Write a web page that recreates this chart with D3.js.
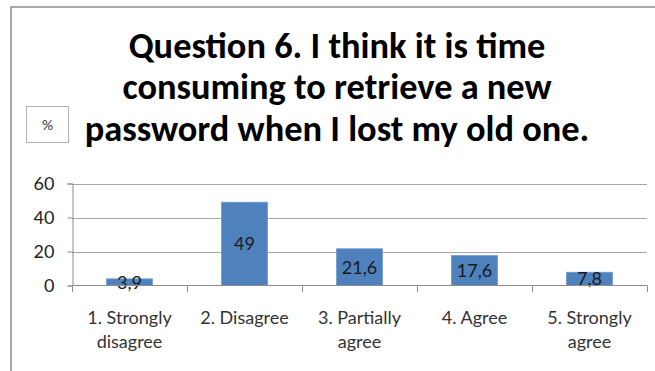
<!DOCTYPE html>
<html>
<head>
<meta charset="utf-8">
<script src="https://cdn.jsdelivr.net/npm/d3@7"></script>
<style>
  html, body { margin: 0; padding: 0; background: #fff; }
  svg { display: block; }
</style>
</head>
<body>
<svg id="chart" width="655" height="371"></svg>
<script>
// Survey answers (percent of respondents)
const categories = ["1. Strongly disagree", "2. Disagree", "3. Partially agree", "4. Agree", "5. Strongly agree"];
const categoryLines = [["1. Strongly", "disagree"], ["2. Disagree"], ["3. Partially", "agree"], ["4. Agree"], ["5. Strongly", "agree"]];
const values = [3.9, 49, 21.6, 17.6, 7.8];
const valueLabels = ["3,9", "49", "21,6", "17,6", "7,8"];
const yTicks = [0, 20, 40, 60];
const titleLines = ["Question 6. I think it is time", "consuming to retrieve a new", "password when I lost my old one."];
const unitLabel = "%";

const svg = d3.select("#chart");
const font = "Lato, 'Open Sans', sans-serif";

// outer chart frame (runs off the right and bottom edges)
svg.append("rect")
  .attr("x", 11).attr("y", 7).attr("width", 700).attr("height", 420)
  .attr("fill", "none").attr("stroke", "#8c8c8c").attr("stroke-width", 1.5);

// title, fitted so the longest line spans the title area
const title = svg.append("g").attr("font-family", "Calibri, Carlito, " + font).attr("font-weight", "bold").attr("fill", "#000");
const titleBaselines = [58, 99, 141];
const tNodes = title.selectAll("text").data(titleLines).join("text")
  .attr("x", 337).attr("y", (d, i) => titleBaselines[i])
  .attr("text-anchor", "middle")
  .attr("font-size", 30)
  .text(d => d);
const w3 = tNodes.nodes()[2].getComputedTextLength();
tNodes.attr("font-size", 30 * 505 / w3);

// unit box
svg.append("rect").attr("x", 26.5).attr("y", 106.5).attr("width", 42).attr("height", 36)
  .attr("fill", "#fff").attr("stroke", "#b0b0b0").attr("stroke-width", 1);
svg.append("text").attr("x", 47.5).attr("y", 130).attr("text-anchor", "middle")
  .attr("font-family", font).attr("font-size", 14).attr("fill", "#333").text(unitLabel);

// scales
const x = d3.scaleBand().domain(categories).range([72, 647]).paddingInner(0.6).paddingOuter(0.3);
const y = d3.scaleLinear().domain([0, 60]).range([285.5, 183.5]);

// horizontal gridlines
svg.append("g").selectAll("line").data(yTicks.filter(t => t > 0)).join("line")
  .attr("x1", 72).attr("x2", 647)
  .attr("y1", d => Math.round(y(d)) + 0.5).attr("y2", d => Math.round(y(d)) + 0.5)
  .attr("stroke", "#a6a6a6").attr("stroke-width", 1.2);

// y axis
const yAxis = svg.append("g").attr("transform", "translate(72.5,0)")
  .call(d3.axisLeft(y).tickValues(yTicks).tickSize(5).tickPadding(13));
yAxis.select(".domain").attr("stroke", "#8c8c8c");
yAxis.selectAll(".tick line").attr("stroke", "#8c8c8c");
yAxis.selectAll(".tick text").attr("font-family", font).attr("font-size", 18).attr("fill", "#222");

// bars
svg.append("g").selectAll("rect").data(values).join("rect")
  .attr("x", (d, i) => x(categories[i]))
  .attr("y", d => y(d))
  .attr("width", x.bandwidth())
  .attr("height", d => y(0) - y(d))
  .attr("fill", "#4f81bd")
  .attr("stroke", "#6f9bd0").attr("stroke-width", 0.8);

// value labels centred in each bar
svg.append("g").selectAll("text").data(values).join("text")
  .attr("x", (d, i) => x(categories[i]) + x.bandwidth() / 2)
  .attr("y", d => (y(d) + y(0)) / 2)
  .attr("dy", "0.36em")
  .attr("text-anchor", "middle")
  .attr("font-family", font).attr("font-size", 18).attr("fill", "#1a1a1a")
  .text((d, i) => valueLabels[i]);

// x axis line with ticks at category boundaries
const step = x.step();
const bounds = d3.range(categories.length + 1).map(i => 72 + i * step);
svg.append("line").attr("x1", 72).attr("x2", 647).attr("y1", 285.5).attr("y2", 285.5)
  .attr("stroke", "#8c8c8c").attr("stroke-width", 1.2);
svg.append("g").selectAll("line").data(bounds).join("line")
  .attr("x1", d => Math.round(d) + 0.5).attr("x2", d => Math.round(d) + 0.5)
  .attr("y1", 285.5).attr("y2", 292)
  .attr("stroke", "#8c8c8c");

// category labels
const catG = svg.append("g").attr("font-family", font).attr("font-size", 18).attr("fill", "#333");
categories.forEach((c, i) => {
  const cx = x(c) + x.bandwidth() / 2;
  const t = catG.append("text").attr("text-anchor", "middle").attr("x", cx).attr("y", 324);
  categoryLines[i].forEach((line, j) => {
    t.append("tspan").attr("x", cx).attr("y", 324 + j * 24).text(line);
  });
});
</script>
</body>
</html>
